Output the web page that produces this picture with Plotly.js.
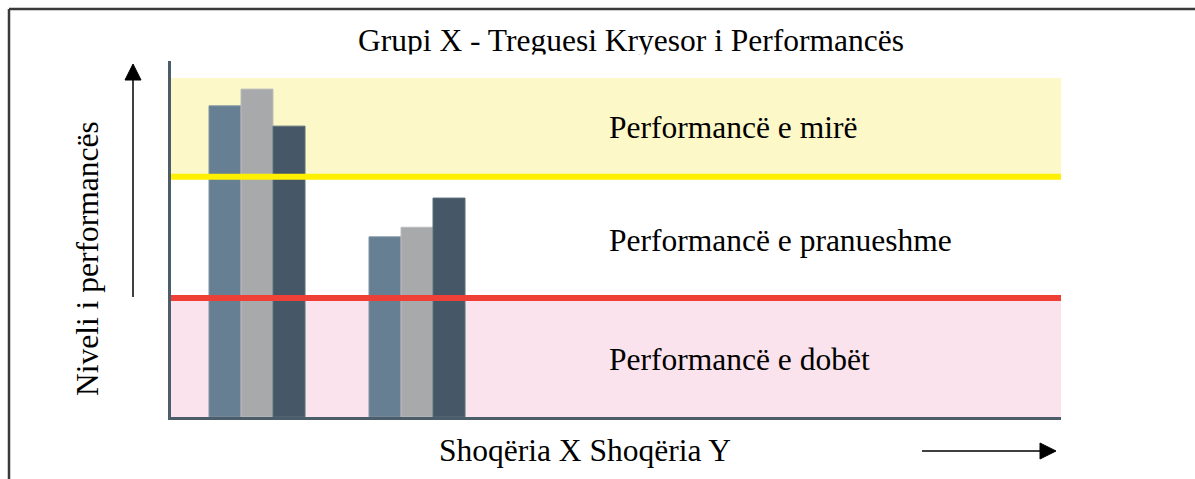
<!DOCTYPE html>
<html>
<head>
<meta charset="utf-8">
<script src="https://cdn.plot.ly/plotly-3.0.1.min.js"></script>
<style>html,body{margin:0;padding:0;background:#fff;}#chart{width:1195px;height:479px;}</style>
</head>
<body>
<div id="chart"></div>
<script>
// ---- data ----
var companies = ["Shoqëria X", "Shoqëria Y"];
var series1 = [8.74, 5.06];
var series2 = [9.21, 5.33];
var series3 = [8.17, 6.15];
var seriesNames = ["Seria 1", "Seria 2", "Seria 3"];
var thresholdGood = 6.75;   // yellow line
var thresholdPoor = 3.34;   // red line
var bandTop = 9.52;         // top of the yellow zone
var zoneLabels = ["Performancë e mirë", "Performancë e pranueshme", "Performancë e dobët"];
var zoneLabelY = [8.12, 4.95, 1.62];
var chartTitle = "Grupi X - Treguesi Kryesor i Performancës";
var yTitle = "Niveli i performancës";
var xTitle = "Shoqëria X Shoqëria Y";

// ---- layout helpers ----
var W = 1195, H = 479;
var M = {l: 171, r: 134, t: 61, b: 62};
var PW = W - M.l - M.r, PH = H - M.t - M.b;
function px(x) { return (x - M.l) / PW; }       // pixel -> paper x
function py(y) { return (H - M.b - y) / PH; }   // pixel -> paper y

var font = "Liberation Serif, Times New Roman, serif";
var fs = 31.5;

var colors = ["#667f92", "#a8a9ab", "#465867"];
var edge = ["#8093a3", "#bdbdbf", "#5d6d7b"];
var vals = [series1, series2, series3];
var traces = vals.map(function (v, i) {
  return {
    type: "bar", x: companies, y: v, name: seriesNames[i],
    marker: {color: colors[i], line: {color: edge[i], width: 1}},
    hoverinfo: "x+y"
  };
});

var shapes = [
  // zones
  {type: "rect", xref: "paper", yref: "y", x0: 0, x1: 1, y0: thresholdGood, y1: bandTop,
   fillcolor: "#fcf8c7", line: {width: 0}, layer: "below"},
  {type: "rect", xref: "paper", yref: "y", x0: 0, x1: 1, y0: 0, y1: thresholdPoor,
   fillcolor: "#fae3ec", line: {width: 0}, layer: "below"},
  // threshold lines
  {type: "line", xref: "paper", yref: "y", x0: 0, x1: 1, y0: thresholdGood, y1: thresholdGood,
   line: {color: "#fff000", width: 6}, layer: "above"},
  {type: "line", xref: "paper", yref: "y", x0: 0, x1: 1, y0: thresholdPoor, y1: thresholdPoor,
   line: {color: "#ee4036", width: 6}, layer: "above"},
  // frame
  {type: "line", xref: "paper", yref: "paper", x0: px(9), x1: px(1196), y0: py(9), y1: py(9),
   line: {color: "#3a3a3a", width: 2.5}},
  {type: "line", xref: "paper", yref: "paper", x0: px(9), x1: px(9), y0: py(9), y1: py(480),
   line: {color: "#3a3a3a", width: 2.5}},
  // up arrow
  {type: "line", xref: "paper", yref: "paper", x0: px(133), x1: px(133), y0: py(297), y1: py(78),
   line: {color: "#000", width: 1.5}},
  {type: "path", xref: "paper", yref: "paper",
   path: "M " + px(133) + " " + py(64) + " L " + px(125) + " " + py(80) + " L " + px(141) + " " + py(80) + " Z",
   fillcolor: "#000", line: {color: "#000", width: 1}},
  // right arrow
  {type: "line", xref: "paper", yref: "paper", x0: px(922), x1: px(1042), y0: py(451), y1: py(451),
   line: {color: "#000", width: 1.5}},
  {type: "path", xref: "paper", yref: "paper",
   path: "M " + px(1056) + " " + py(451) + " L " + px(1040) + " " + py(443) + " L " + px(1040) + " " + py(459) + " Z",
   fillcolor: "#000", line: {color: "#000", width: 1}}
];

var annotations = [];
// white strip that clips the title's descenders, as in the original
annotations.push({text: " ", xref: "paper", yref: "paper", x: px(630), y: py(54),
  xanchor: "center", yanchor: "top", showarrow: false, width: 580, height: 18,
  bgcolor: "#ffffff", borderpad: 0, font: {size: 4}});
zoneLabels.forEach(function (t, i) {
  annotations.push({text: t, xref: "paper", yref: "y", x: px(607), y: zoneLabelY[i],
          xanchor: "left", yanchor: "middle", showarrow: false,
          font: {family: font, size: fs, color: "#000"}});
});
annotations.push({text: yTitle, xref: "paper", yref: "paper", x: px(87), y: py(259),
  textangle: -90, xanchor: "center", yanchor: "middle", showarrow: false,
  font: {family: font, size: fs, color: "#000"}});
annotations.push({text: xTitle, xref: "paper", yref: "paper", x: px(585), y: py(451),
  xanchor: "center", yanchor: "middle", showarrow: false,
  font: {family: font, size: fs, color: "#000"}});

var layout = {
  width: W, height: H,
  margin: M,
  paper_bgcolor: "#fff", plot_bgcolor: "rgba(0,0,0,0)",
  showlegend: false,
  barmode: "group", bargap: 0.4, bargroupgap: 0,
  title: {text: chartTitle, xref: "paper", x: px(631), xanchor: "center",
          yref: "container", y: 1 - 40 / H, yanchor: "middle",
          font: {family: font, size: fs, color: "#000"}},
  xaxis: {type: "category", range: [-0.5375, 5.025], showticklabels: false, ticks: "",
          showgrid: false, zeroline: false, showline: true, linecolor: "#4b5c6b", linewidth: 3,
          fixedrange: true},
  yaxis: {range: [0, 10], showticklabels: false, ticks: "", showgrid: false, zeroline: false,
          showline: true, linecolor: "#4b5c6b", linewidth: 3, fixedrange: true},
  shapes: shapes,
  annotations: annotations
};

Plotly.newPlot("chart", traces, layout, {displayModeBar: false, staticPlot: true});
</script>
</body>
</html>
